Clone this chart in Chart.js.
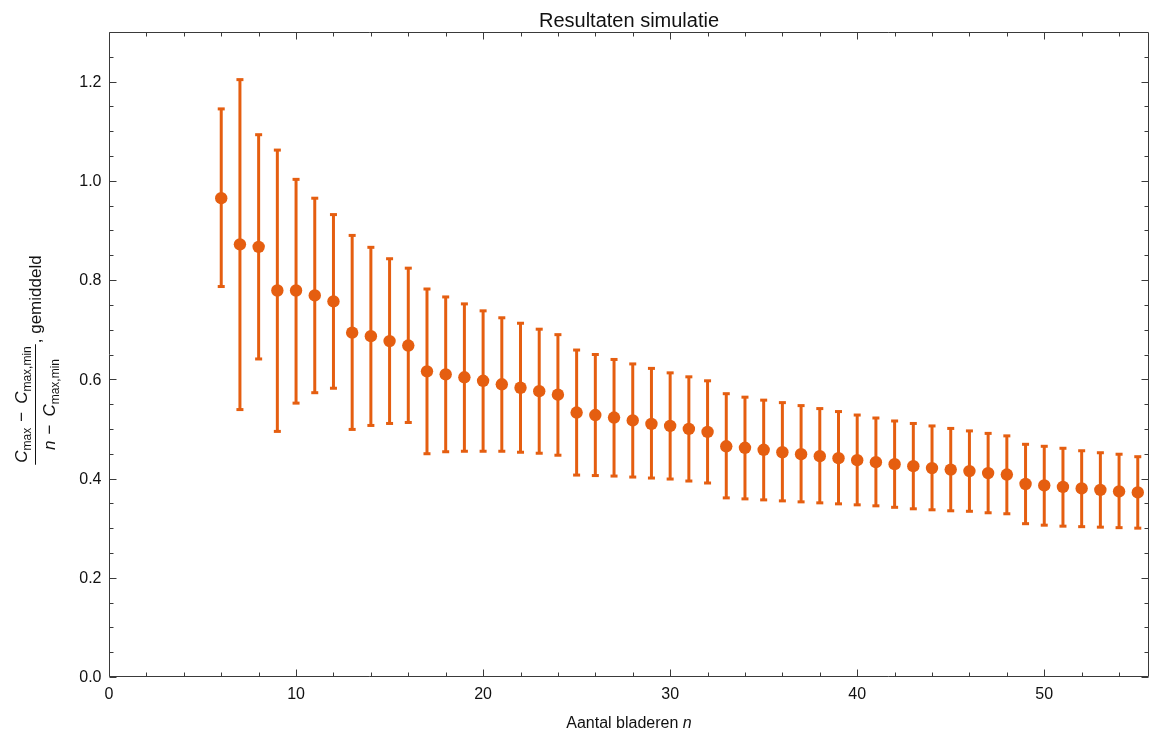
<!DOCTYPE html>
<html>
<head>
<meta charset="utf-8">
<script src="https://cdn.jsdelivr.net/npm/chart.js@4.4.1/dist/chart.umd.min.js"></script>
<style>
  html, body { margin: 0; padding: 0; background: #ffffff; overflow: hidden; }
  #wrap { width: 1150px; height: 736px; }
  canvas { display: block; }
</style>
</head>
<body>
<div id="wrap"><canvas id="c" width="1150" height="736"></canvas></div>
<script>
// ---- data ----
const nValues = [6,7,8,9,10,11,12,13,14,15,16,17,18,19,20,21,22,23,24,25,26,27,28,29,30,
  31,32,33,34,35,36,37,38,39,40,41,42,43,44,45,46,47,48,49,50,51,52,53,54,55];
const meanValues = [0.965,0.872,0.867,0.779,0.779,0.769,0.757,0.694,0.687,0.677,0.668,
  0.616,0.610,0.604,0.597,0.590,0.583,0.576,0.569,0.533,0.528,0.523,0.517,0.510,0.506,
  0.500,0.494,0.465,0.462,0.458,0.453,0.449,0.445,0.441,0.437,0.433,0.429,0.425,0.421,
  0.418,0.415,0.411,0.408,0.389,0.386,0.383,0.380,0.377,0.374,0.372];
const upperValues = [1.145,1.204,1.093,1.062,1.003,0.965,0.932,0.890,0.866,0.843,0.824,
  0.782,0.766,0.752,0.738,0.724,0.713,0.701,0.690,0.659,0.650,0.640,0.631,0.622,0.613,
  0.605,0.597,0.571,0.564,0.558,0.553,0.547,0.541,0.535,0.528,0.522,0.516,0.511,0.506,
  0.501,0.496,0.491,0.486,0.469,0.465,0.461,0.456,0.452,0.449,0.444];
const lowerValues = [0.787,0.539,0.641,0.495,0.552,0.573,0.582,0.499,0.507,0.511,0.513,
  0.450,0.454,0.455,0.455,0.455,0.453,0.451,0.447,0.407,0.406,0.405,0.403,0.401,0.399,
  0.395,0.391,0.361,0.359,0.357,0.355,0.353,0.351,0.349,0.347,0.345,0.342,0.339,0.337,
  0.335,0.334,0.331,0.329,0.309,0.306,0.304,0.303,0.302,0.301,0.300];

const xTickValues = [0,10,20,30,40,50];
const xTickLabels = ['0','10','20','30','40','50'];
const xMinorValues = [2,4,6,8,12,14,16,18,22,24,26,28,32,34,36,38,42,44,46,48,52,54];
const yTickValues = [0,0.2,0.4,0.6,0.8,1.0,1.2];
const yTickLabels = ['0.0','0.2','0.4','0.6','0.8','1.0','1.2'];
const yMinorValues = [0.05,0.1,0.15,0.25,0.3,0.35,0.45,0.5,0.55,0.65,0.7,0.75,
  0.85,0.9,0.95,1.05,1.1,1.15,1.25];

const titleText = 'Resultaten simulatie';
const xLabelText = 'Aantal bladeren ';
const xLabelVar = 'n';

// ---- styling ----
const COLOR = 'rgb(229,94,16)';
const AXIS = '#3a3a3a';
const FONT = '"Liberation Sans", Arial, sans-serif';

function drawRuns(ctx, runs, x, y, align) {
  let total = 0;
  runs.forEach(r => { ctx.font = r.f; r.w = ctx.measureText(r.t).width; total += r.w + (r.gap || 0); });
  let cx = align === 'center' ? x - total / 2 : (align === 'right' ? x - total : x);
  ctx.textAlign = 'left';
  ctx.textBaseline = 'alphabetic';
  runs.forEach(r => {
    ctx.font = r.f;
    ctx.fillText(r.t, cx, y + (r.dy || 0));
    cx += r.w + (r.gap || 0);
  });
  return total;
}

const errorBarPlugin = {
  id: 'errorBars',
  beforeDatasetsDraw(chart) {
    const ctx = chart.ctx, xs = chart.scales.x, ys = chart.scales.y;
    ctx.save();
    ctx.strokeStyle = COLOR;
    ctx.fillStyle = COLOR;
    ctx.lineWidth = 3;
    nValues.forEach((n, i) => {
      const px = xs.getPixelForValue(n);
      const pTop = ys.getPixelForValue(upperValues[i]);
      const pBot = ys.getPixelForValue(lowerValues[i]);
      ctx.beginPath();
      ctx.moveTo(px, pTop);
      ctx.lineTo(px, pBot);
      ctx.stroke();
      ctx.fillRect(px - 3.5, pTop - 1.5, 7, 3);
      ctx.fillRect(px - 3.5, pBot - 1.5, 7, 3);
    });
    ctx.restore();
  }
};

const framePlugin = {
  id: 'frame',
  afterDraw(chart) {
    const ctx = chart.ctx, xs = chart.scales.x, ys = chart.scales.y;
    const a = chart.chartArea;
    const L = Math.round(a.left) + 0.5, R = Math.round(a.right) - 0.5;
    const T = Math.round(a.top) + 0.5, B = Math.round(a.bottom) - 0.5;
    ctx.save();
    ctx.strokeStyle = AXIS;
    ctx.lineWidth = 1;
    ctx.beginPath();
    ctx.rect(L, T, R - L, B - T);
    ctx.stroke();
    ctx.beginPath();
    const major = 7, minor = 4;
    xTickValues.concat(xMinorValues).forEach(v => {
      const len = xTickValues.includes(v) ? major : minor;
      const px = Math.round(xs.getPixelForValue(v)) + 0.5;
      ctx.moveTo(px, B); ctx.lineTo(px, B - len);
      ctx.moveTo(px, T); ctx.lineTo(px, T + len);
    });
    yTickValues.concat(yMinorValues).forEach(v => {
      const len = yTickValues.includes(v) ? major : minor;
      const py = Math.round(ys.getPixelForValue(v)) + 0.5;
      ctx.moveTo(L, py); ctx.lineTo(L + len, py);
      ctx.moveTo(R, py); ctx.lineTo(R - len, py);
    });
    ctx.stroke();

    // tick labels
    ctx.fillStyle = '#111';
    ctx.font = '16px ' + FONT;
    ctx.textAlign = 'center';
    ctx.textBaseline = 'alphabetic';
    xTickValues.forEach((v, i) => {
      ctx.fillText(xTickLabels[i], xs.getPixelForValue(v), B + 22);
    });
    ctx.textAlign = 'right';
    ctx.textBaseline = 'middle';
    yTickValues.forEach((v, i) => {
      ctx.fillText(yTickLabels[i], L - 8, ys.getPixelForValue(v) + 1);
    });

    // title
    ctx.fillStyle = '#111';
    ctx.font = '20px ' + FONT;
    ctx.textAlign = 'center';
    ctx.textBaseline = 'alphabetic';
    ctx.fillText(titleText, (a.left + a.right) / 2, 27);

    // x label
    drawRuns(ctx, [
      { t: xLabelText, f: '16px ' + FONT },
      { t: xLabelVar, f: 'italic 16px ' + FONT }
    ], (a.left + a.right) / 2, 728, 'center');

    // y label (rotated fraction)
    const cx = 35, cy = (a.top + a.bottom) / 2 + 50;
    ctx.translate(cx, cy);
    ctx.rotate(-Math.PI / 2);
    const big = '17px ' + FONT, bigI = 'italic 17px ' + FONT, sub = '12px ' + FONT;
    const numW = drawRuns(ctx, [
      { t: 'C', f: bigI },
      { t: 'max', f: sub, dy: 4, gap: 6 },
      { t: '\u2212', f: big, gap: 8 },
      { t: 'C', f: bigI },
      { t: 'max,min', f: sub, dy: 4 }
    ], 0, -8, 'center');
    drawRuns(ctx, [
      { t: 'n', f: bigI, gap: 6 },
      { t: '\u2212', f: big, gap: 8 },
      { t: 'C', f: bigI },
      { t: 'max,min', f: sub, dy: 4 }
    ], 0, 20, 'center');
    ctx.strokeStyle = '#111';
    ctx.lineWidth = 1;
    ctx.beginPath();
    ctx.moveTo(-numW / 2 - 2, 0.5);
    ctx.lineTo(numW / 2 + 2, 0.5);
    ctx.stroke();
    drawRuns(ctx, [{ t: ', gemiddeld', f: big }], numW / 2 + 3, 6, 'left');
    ctx.restore();
  }
};

const chart = new Chart(document.getElementById('c'), {
  type: 'scatter',
  data: {
    datasets: [{
      data: nValues.map((n, i) => ({ x: n, y: meanValues[i] })),
      backgroundColor: COLOR,
      borderColor: COLOR,
      borderWidth: 0,
      pointRadius: 6.2,
      pointHoverRadius: 6.2
    }]
  },
  options: {
    responsive: false,
    animation: false,
    devicePixelRatio: 1,
    layout: { autoPadding: false, padding: { top: 32, right: 1, left: 0, bottom: 0 } },
    plugins: { legend: { display: false }, tooltip: { enabled: false }, title: { display: false } },
    scales: {
      x: {
        type: 'linear', min: 0, max: 55.6,
        grid: { display: false }, border: { display: false },
        ticks: { display: false },
        afterFit: s => { s.height = 59; }
      },
      y: {
        type: 'linear', min: 0, max: 1.3,
        grid: { display: false }, border: { display: false },
        ticks: { display: false },
        afterFit: s => { s.width = 109; }
      }
    }
  },
  plugins: [errorBarPlugin, framePlugin]
});
</script>
</body>
</html>
